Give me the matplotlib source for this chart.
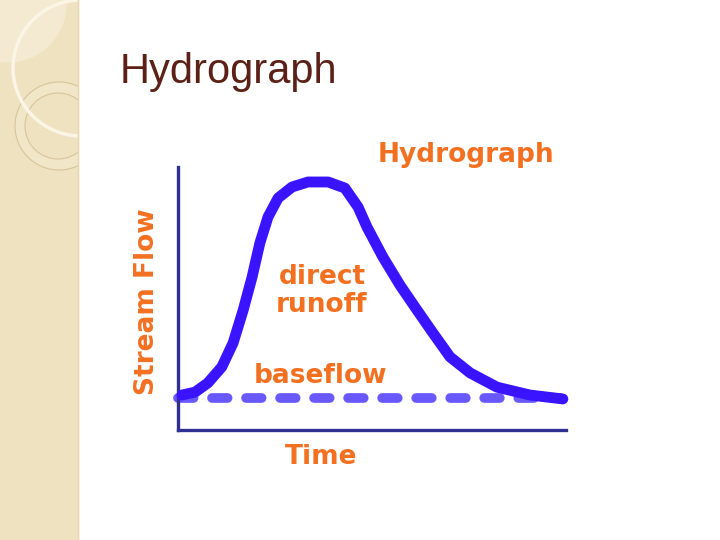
import matplotlib.pyplot as plt
from matplotlib.patches import Rectangle, Circle

# hydrograph (time, stream flow in arbitrary units 0-10)
time = [0.10, 0.44, 0.77, 1.13, 1.42, 1.68, 1.91, 2.11, 2.32, 2.58, 2.94,
        3.35, 3.87, 4.30, 4.64, 4.87, 5.28, 5.72, 6.16, 6.57, 7.01, 7.53,
        8.22, 9.07, 9.92]
flow = [1.33, 1.44, 1.79, 2.40, 3.31, 4.56, 5.82, 7.11, 8.10, 8.82, 9.24,
        9.43, 9.43, 9.20, 8.48, 7.72, 6.58, 5.51, 4.56, 3.69, 2.78, 2.17,
        1.63, 1.33, 1.18]
base_time = [0.0, 9.85]
base_flow = [1.2, 1.2]

slide_title = "Hydrograph"
chart_title = "Hydrograph"
labels = ["direct\nrunoff", "baseflow"]

W, H = 720, 540
fig = plt.figure(figsize=(7.2, 5.4), dpi=100)
fig.patch.set_facecolor("white")

# slide decoration in pixel coordinates
bg = fig.add_axes([0, 0, 1, 1])
bg.set_xlim(0, W)
bg.set_ylim(H, 0)
bg.axis("off")
bg.add_patch(Rectangle((0, 0), 78, H, color="#efe2c0", zorder=0))
strip = Rectangle((0, 0), 78, H, transform=bg.transData)
corner = Circle((8, 4), 58, color="#f4ead2", zorder=1)
ring = Circle((59, 126), 44, facecolor="#f2e6c8", edgecolor="#d8c49a", lw=0.8, zorder=2)
inner = Circle((58, 126), 33, facecolor="#efe2c0", edgecolor="#d8c49a", lw=0.8, zorder=3)
big = Circle((81, 68), 68, fill=False, edgecolor="#fbf5e6", lw=2.5, zorder=4)
for p in (corner, ring, inner, big):
    bg.add_patch(p)
    p.set_clip_path(strip)
bg.plot([78, 78], [0, H], color="#e6d7b0", lw=1, zorder=5)

fig.text(120 / W, 1 - 83 / H, slide_title, family="Liberation Sans",
         fontsize=30, color="#5b2016", va="baseline", ha="left")

# the hydrograph itself
ax = fig.add_axes([178 / W, 1 - 430 / H, (566 - 178) / W, (430 - 167) / H])
ax.set_xlim(0, 10)
ax.set_ylim(0, 10)
ax.patch.set_alpha(0)
for s in ("top", "right"):
    ax.spines[s].set_visible(False)
for s in ("left", "bottom"):
    ax.spines[s].set_color("#2e3192")
    ax.spines[s].set_linewidth(2.4)
ax.set_xticks([])
ax.set_yticks([])

ax.plot(base_time, base_flow, color="#5a46ff", lw=7, dashes=(1.6, 1.9),
        dash_capstyle="round", alpha=0.9, clip_on=False, zorder=2)
ax.plot(time, flow, color="#3a14ff", lw=7.8, solid_capstyle="round",
        solid_joinstyle="round", clip_on=False, zorder=3)

orange = "#f37021"
tkw = dict(family="DejaVu Sans", weight="bold", color=orange, ha="center", va="center")
fig.text(466 / W, 1 - 155 / H, chart_title, fontsize=19, **tkw)
fig.text(322 / W, 1 - 291 / H, labels[0], fontsize=19, linespacing=1.15, **tkw)
fig.text(321 / W, 1 - 376 / H, labels[1], fontsize=19, **tkw)
fig.text(321 / W, 1 - 457 / H, "Time", fontsize=19, **tkw)
fig.text(147 / W, 1 - 302 / H, "Stream Flow", fontsize=19, rotation=90, **tkw)

fig.savefig("out.png", dpi=100)
